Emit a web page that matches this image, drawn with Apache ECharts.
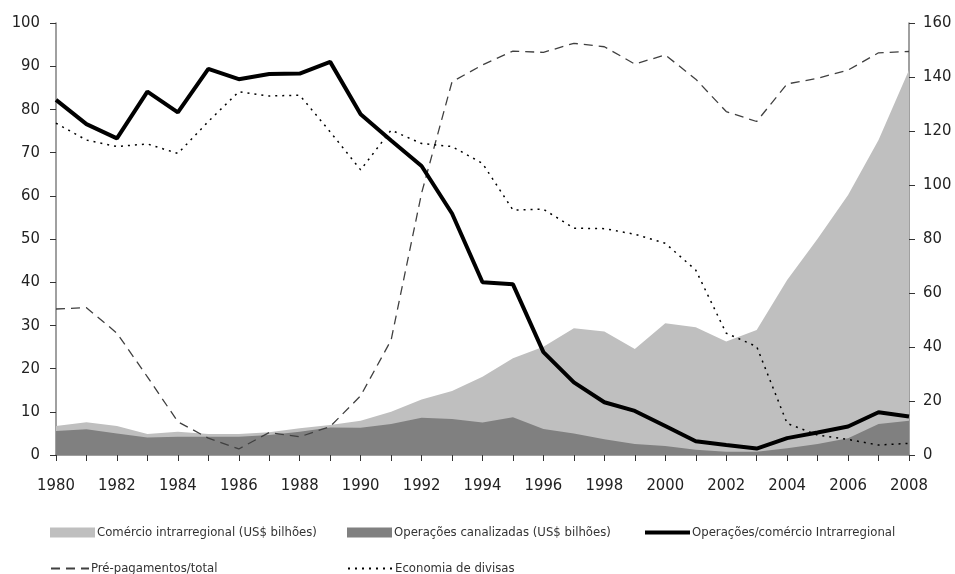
<!DOCTYPE html>
<html>
<head>
<meta charset="utf-8">
<script src="https://cdn.jsdelivr.net/npm/echarts@6/dist/echarts.min.js"></script>
<style>
  html, body { margin: 0; padding: 0; background: #fff; }
  #chart { width: 955px; height: 574px; }
</style>
</head>
<body>
<div id="chart"></div>
<script>
// anos
const years = [];
for (let y = 1980; y <= 2008; y++) years.push(String(y));

// US$ bilhões (eixo direito)
const comercio = [10.7, 12.1, 10.7, 7.8, 8.6, 7.8, 7.8, 8.4, 9.9, 11.1, 12.7, 16.0, 20.6, 23.7, 29.0,
  35.8, 40.1, 46.9, 45.7, 39.3, 48.8, 47.3, 42.0, 46.3, 64.8, 80.1, 96.3, 116.7, 142.6];
const canalizadas = [8.9, 9.5, 8.0, 6.5, 6.8, 6.8, 6.8, 7.4, 8.6, 10.2, 10.1, 11.5, 13.8, 13.3, 12.0,
  14.0, 9.6, 8.0, 5.8, 4.1, 3.3, 1.9, 1.2, 1.2, 2.5, 4.1, 6.2, 11.5, 12.7];

// % (eixo esquerdo)
const operacoesComercio = [82.2, 76.6, 73.3, 84.1, 79.3, 89.4, 87.0, 88.2, 88.3, 91.0, 78.9, 72.8, 66.9, 55.9, 40.0,
  39.5, 23.8, 16.8, 12.2, 10.2, 6.7, 3.2, 2.3, 1.5, 3.9, 5.2, 6.6, 9.9, 8.9];
const prePagamentos = [33.8, 34.1, 28.2, 18.1, 7.7, 3.9, 1.4, 5.2, 4.2, 6.6, 13.7, 26.6, 60.6, 86.4, 90.3,
  93.5, 93.2, 95.3, 94.5, 90.5, 92.6, 87.0, 79.5, 77.2, 85.9, 87.2, 89.1, 93.1, 93.4];
const economiaDivisas = [76.8, 72.9, 71.4, 72.0, 69.8, 77.2, 84.1, 83.1, 83.3, 74.8, 66.0, 75.2, 72.1, 71.4, 67.5,
  56.7, 56.9, 52.5, 52.4, 51.1, 49.0, 42.8, 28.2, 25.1, 7.3, 4.6, 3.6, 2.3, 2.7];

const FONT = "'Liberation Sans Narrow', 'DejaVu Sans Condensed', 'Noto Sans', sans-serif";
const axisGray = "#808080";

const chart = echarts.init(document.getElementById("chart"));

const legendBase = {
  orient: "horizontal",
  padding: 0,
  itemGap: 0,
  itemWidth: 45,
  itemHeight: 10,
  itemStyle: { opacity: 0 },
  textStyle: { fontFamily: FONT, fontSize: 13, color: "#333", padding: [0, 0, 0, -3] },
};

chart.setOption({
  animation: false,
  textStyle: { fontFamily: FONT },
  grid: { left: 56, right: 46, top: 23, bottom: 119, containLabel: false },
  legend: [
    { ...legendBase, left: 50, top: 526, itemStyle: {}, data: [{ name: "Comércio intrarregional (US$ bilhões)", icon: "rect" }] },
    { ...legendBase, left: 347, top: 526, itemStyle: {}, data: [{ name: "Operações canalizadas (US$ bilhões)", icon: "rect" }] },
    { ...legendBase, left: 643, top: 526, itemHeight: 12, lineStyle: { width: 4 }, data: ["Operações/comércio Intrarregional"] },
    { ...legendBase, left: 50, top: 562, itemWidth: 38, data: ["Pré-pagamentos/total"] },
    { ...legendBase, left: 347, top: 562, data: ["Economia de divisas"] },
  ],
  xAxis: {
    type: "category",
    data: years,
    boundaryGap: false,
    axisLine: { lineStyle: { color: axisGray, width: 1.5 } },
    axisTick: { interval: 0, length: 6, lineStyle: { color: "#333" } },
    axisLabel: { interval: 1, margin: 22, fontSize: 16.5, color: "#222", fontFamily: FONT },
  },
  yAxis: [
    {
      type: "value",
      min: 0,
      max: 100,
      interval: 10,
      splitLine: { show: false },
      axisLine: { show: true, lineStyle: { color: axisGray, width: 1.5 } },
      axisTick: { show: true, length: 6, lineStyle: { color: "#333" } },
      axisLabel: { margin: 16, fontSize: 16.5, color: "#222", fontFamily: FONT },
    },
    {
      type: "value",
      min: 0,
      max: 160,
      interval: 20,
      position: "right",
      splitLine: { show: false },
      axisLine: { show: true, lineStyle: { color: axisGray, width: 1.5 } },
      axisTick: { show: true, length: 6, lineStyle: { color: "#333" } },
      axisLabel: { margin: 14, fontSize: 16.5, color: "#222", fontFamily: FONT },
    },
  ],
  series: [
    {
      name: "Comércio intrarregional (US$ bilhões)",
      type: "line",
      yAxisIndex: 1,
      data: comercio,
      symbol: "none",
      lineStyle: { width: 0 },
      itemStyle: { color: "#bfbfbf" },
      areaStyle: { color: "#bfbfbf", opacity: 1 },
      z: 1,
    },
    {
      name: "Operações canalizadas (US$ bilhões)",
      type: "line",
      yAxisIndex: 1,
      data: canalizadas,
      symbol: "none",
      lineStyle: { width: 0 },
      itemStyle: { color: "#808080" },
      areaStyle: { color: "#808080", opacity: 1 },
      z: 2,
    },
    {
      name: "Operações/comércio Intrarregional",
      type: "line",
      yAxisIndex: 0,
      data: operacoesComercio,
      symbol: "none",
      itemStyle: { color: "#000" },
      lineStyle: { color: "#000", width: 4 },
      z: 5,
    },
    {
      name: "Pré-pagamentos/total",
      type: "line",
      yAxisIndex: 0,
      data: prePagamentos,
      symbol: "none",
      itemStyle: { color: "#404040" },
      lineStyle: { color: "#404040", width: 1.3, type: [9, 6] },
      z: 4,
    },
    {
      name: "Economia de divisas",
      type: "line",
      yAxisIndex: 0,
      data: economiaDivisas,
      symbol: "none",
      itemStyle: { color: "#000" },
      lineStyle: { color: "#000", width: 1.5, type: [2, 5] },
      z: 4,
    },
  ],
});
</script>
</body>
</html>
